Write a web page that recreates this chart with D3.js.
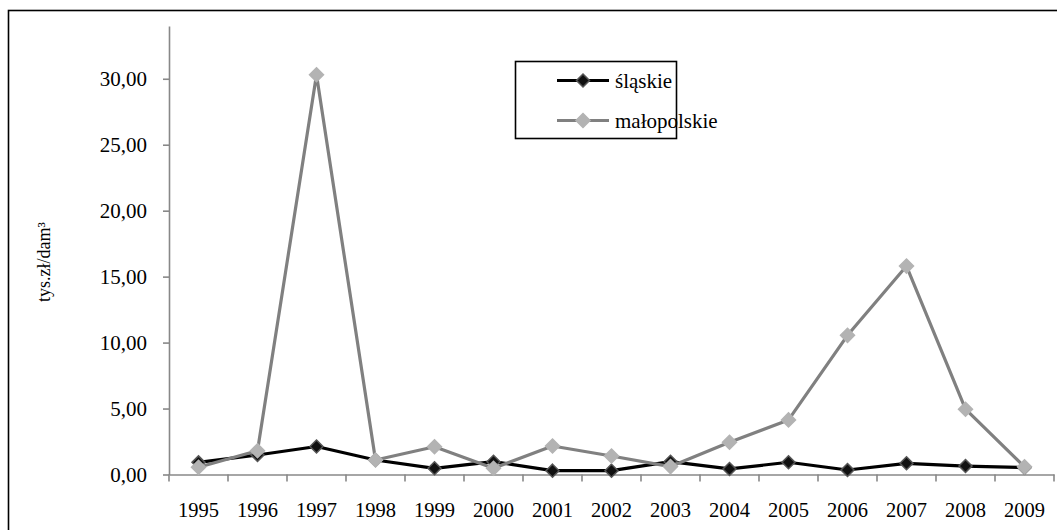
<!DOCTYPE html>
<html>
<head>
<meta charset="utf-8">
<script src="https://cdn.jsdelivr.net/npm/d3@7"></script>
<style>
  html, body { margin: 0; padding: 0; background: #fff; }
  svg { display: block; }
  text { font-family: "Liberation Serif", "Times New Roman", serif; fill: #000; }
</style>
</head>
<body>
<svg id="chart" width="1057" height="530"></svg>
<script>
// Cost per dam³, thousand zł, by voivodeship
const years = ["1995","1996","1997","1998","1999","2000","2001","2002","2003","2004","2005","2006","2007","2008","2009"];
const slaskie = [0.92, 1.48, 2.12, 1.10, 0.47, 0.97, 0.29, 0.29, 0.97, 0.42, 0.93, 0.34, 0.85, 0.64, 0.52];
const malopolskie = [0.55, 1.80, 30.30, 1.10, 2.10, 0.47, 2.16, 1.40, 0.60, 2.44, 4.14, 10.55, 15.80, 4.95, 0.58];
const yTicks = [0, 5, 10, 15, 20, 25, 30];
const seriesNames = ["śląskie", "małopolskie"];
const yLabel = "tys.zł/dam³";

const svg = d3.select("#chart");

// outer frame
svg.append("rect")
  .attr("x", 8.5).attr("y", 10.5)
  .attr("width", 1070).attr("height", 540)
  .attr("fill", "none").attr("stroke", "#000").attr("stroke-width", 1.6);

const plotLeft = 169, plotRight = 1054, plotTop = 26, plotBottom = 474.5;

const x = d3.scaleBand().domain(years).range([plotLeft, plotRight]);
const y = d3.scaleLinear().domain([0, 34]).range([plotBottom, plotTop]);

const fmt = v => d3.format(".2f")(v).replace(".", ",");

// y axis
const yAxis = svg.append("g")
  .attr("transform", `translate(${plotLeft},0)`)
  .call(d3.axisLeft(y).tickValues(yTicks).tickFormat(fmt).tickSize(6).tickSizeOuter(0).tickPadding(16));
yAxis.select(".domain").attr("stroke", "#888").attr("stroke-width", 1.6);
yAxis.selectAll(".tick line").attr("stroke", "#888").attr("stroke-width", 1.6);
yAxis.selectAll(".tick text").attr("font-size", "21px").attr("font-family", "Liberation Serif").attr("fill", "#000");

// x axis with ticks between categories
const xAxis = svg.append("g")
  .attr("transform", `translate(0,${plotBottom})`)
  .call(d3.axisBottom(x).tickSize(0).tickPadding(28));
xAxis.select(".domain").attr("stroke", "#888").attr("stroke-width", 1.6);
xAxis.selectAll(".tick text").attr("font-size", "20.5px").attr("font-family", "Liberation Serif").attr("fill", "#000");
xAxis.selectAll(".sep")
  .data(years.map(yr => x(yr)).concat([plotRight]))
  .enter().append("line")
  .attr("class", "sep")
  .attr("x1", d => d).attr("x2", d => d)
  .attr("y1", 0).attr("y2", 7)
  .attr("stroke", "#888").attr("stroke-width", 1.6);

// y axis title
svg.append("text")
  .attr("transform", "translate(50,262) rotate(-90)")
  .attr("text-anchor", "middle")
  .attr("font-size", "18px")
  .text(yLabel);

const cx = yr => x(yr) + x.bandwidth() / 2;
const line = d3.line().x((d, i) => cx(years[i])).y(d => y(d));
const diamond = s => `M0,${-s}L${s},0L0,${s}L${-s},0Z`;

const styles = [
  { data: slaskie, line: "#000", fill: "#111", stroke: "#555", size: 6.5 },
  { data: malopolskie, line: "#808080", fill: "#b3b3b3", stroke: "#b3b3b3", size: 7 }
];

styles.forEach(s => {
  svg.append("path")
    .datum(s.data)
    .attr("d", line)
    .attr("fill", "none")
    .attr("stroke", s.line)
    .attr("stroke-width", 3.2)
    .attr("stroke-linejoin", "round");
  svg.append("g").selectAll("path")
    .data(s.data)
    .enter().append("path")
    .attr("transform", (d, i) => `translate(${cx(years[i])},${y(d)})`)
    .attr("d", diamond(s.size))
    .attr("fill", s.fill)
    .attr("stroke", s.stroke)
    .attr("stroke-width", 1.5);
});

// legend
const lg = svg.append("g");
lg.append("rect")
  .attr("x", 515.5).attr("y", 61.5)
  .attr("width", 161).attr("height", 77)
  .attr("fill", "#fff").attr("stroke", "#000").attr("stroke-width", 1.6);
const rows = [80.5, 120.5];
styles.forEach((s, i) => {
  lg.append("line")
    .attr("x1", 557).attr("x2", 609)
    .attr("y1", rows[i]).attr("y2", rows[i])
    .attr("stroke", s.line).attr("stroke-width", 3.2);
  lg.append("path")
    .attr("transform", `translate(583,${rows[i]})`)
    .attr("d", diamond(s.size))
    .attr("fill", s.fill).attr("stroke", s.stroke).attr("stroke-width", 1.5);
  lg.append("text")
    .attr("x", 615).attr("y", rows[i])
    .attr("dy", "0.35em")
    .attr("font-size", "21px")
    .text(seriesNames[i]);
});
</script>
</body>
</html>
